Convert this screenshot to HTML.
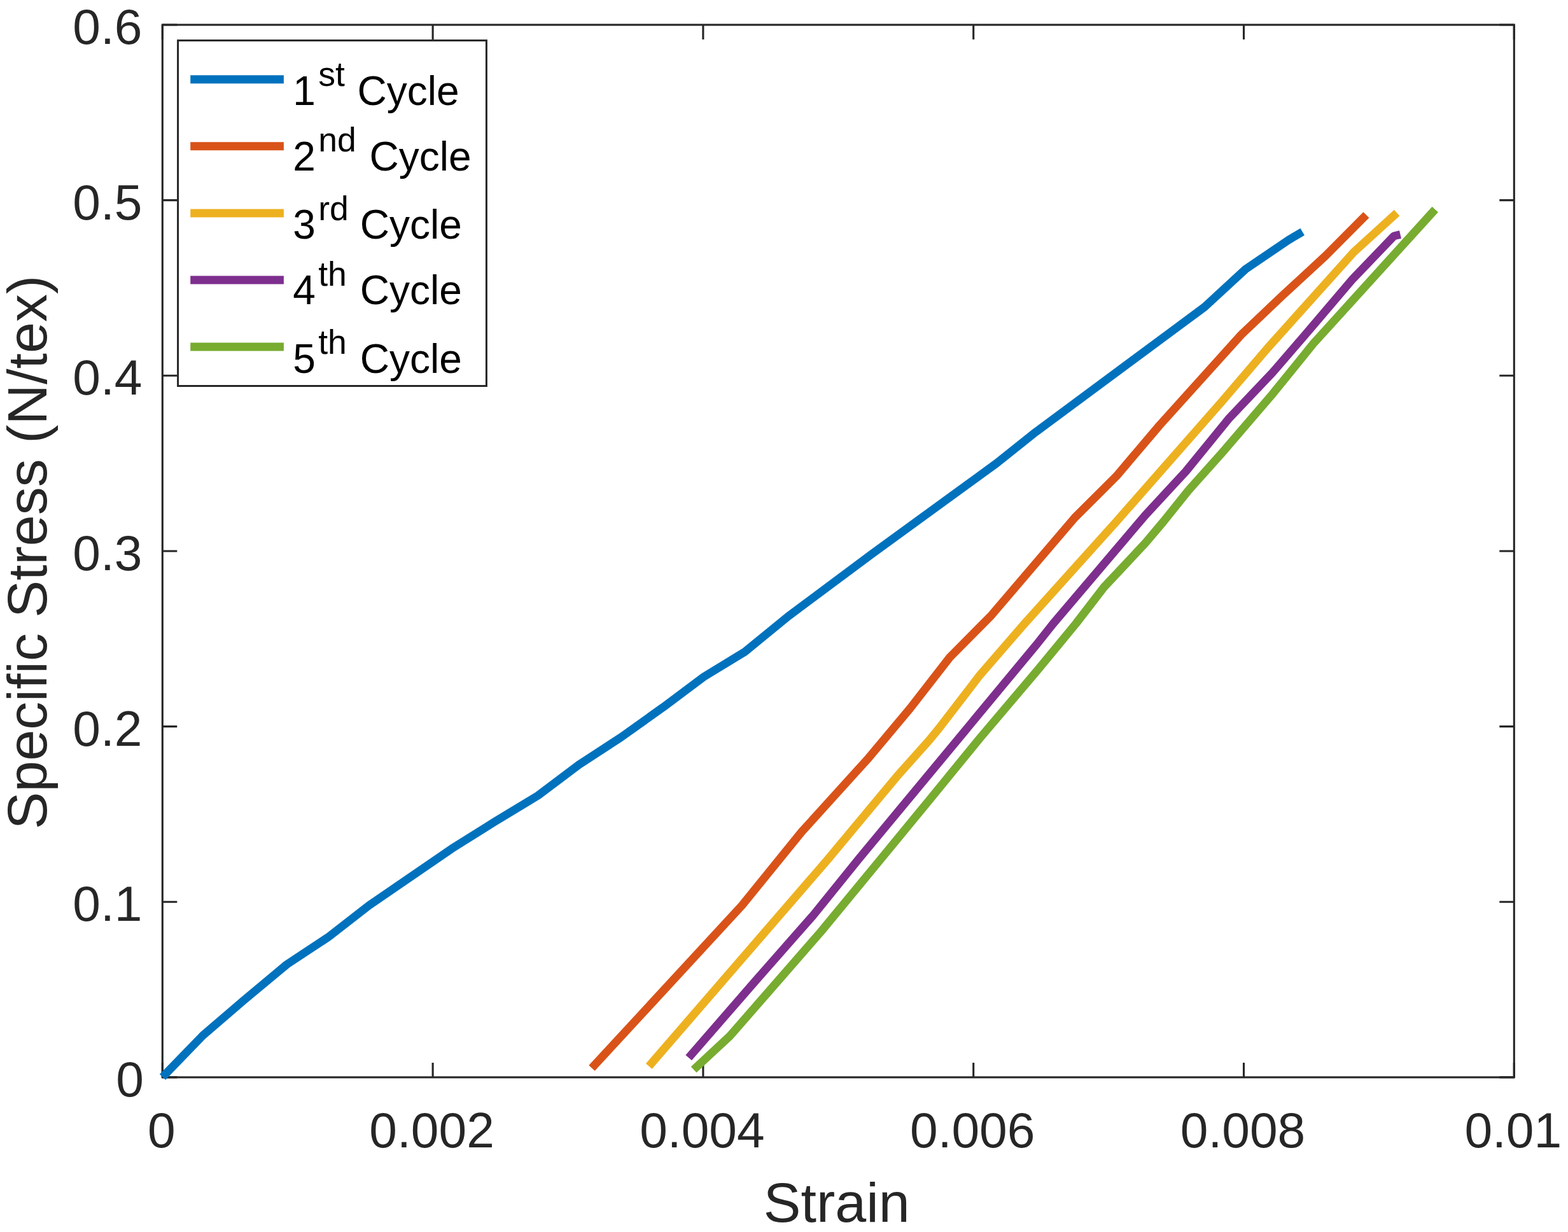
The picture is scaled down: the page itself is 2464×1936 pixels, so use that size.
<!DOCTYPE html>
<html><head><meta charset="utf-8"><title>Specific Stress vs Strain</title>
<style>html,body{margin:0;padding:0;background:#fff;} svg{display:block;}</style></head>
<body><svg width="2464" height="1936" viewBox="0 0 2464 1936">
<rect x="0" y="0" width="2464" height="1936" fill="#ffffff"/>
<path d="M255.30,1692.90V1669.90M255.30,39.00V62.00M680.10,1692.90V1669.90M680.10,39.00V62.00M1104.90,1692.90V1669.90M1104.90,39.00V62.00M1529.70,1692.90V1669.90M1529.70,39.00V62.00M1954.50,1692.90V1669.90M1954.50,39.00V62.00M2379.30,1692.90V1669.90M2379.30,39.00V62.00M255.30,1692.90H278.30M2379.30,1692.90H2356.30M255.30,1417.25H278.30M2379.30,1417.25H2356.30M255.30,1141.60H278.30M2379.30,1141.60H2356.30M255.30,865.95H278.30M2379.30,865.95H2356.30M255.30,590.30H278.30M2379.30,590.30H2356.30M255.30,314.65H278.30M2379.30,314.65H2356.30M255.30,39.00H278.30M2379.30,39.00H2356.30" stroke="#262626" stroke-width="3.1" fill="none"/>
<rect x="255.3" y="39.0" width="2124.00" height="1653.90" fill="none" stroke="#262626" stroke-width="3.1"/>
<polyline points="255.5,1692.5 318.8,1627.1 383.0,1572.0 450.8,1515.5 516.0,1472.5 579.6,1423.0 709.8,1333.7 776.8,1291.7 845.4,1250.1 909.5,1201.8 975.8,1158.6 1042.2,1111.3 1105.9,1063.6 1170.5,1024.2 1238.5,968.6 1370.0,870.6 1566.0,728.0 1627.4,679.1 1892.8,482.5 1957.3,423.0 2024.7,377.2 2046.7,364.2" fill="none" stroke="#0072BD" stroke-width="12.8" stroke-linejoin="round" stroke-linecap="butt"/>
<polyline points="930.0,1678.4 1165.8,1423.0 1260.0,1306.9 1363.0,1193.3 1430.0,1113.4 1492.7,1032.8 1557.9,966.9 1689.0,813.4 1754.3,748.3 1822.0,668.5 1950.4,526.1 2015.1,464.7 2083.0,402.0 2146.9,337.7" fill="none" stroke="#D95319" stroke-width="12.8" stroke-linejoin="round" stroke-linecap="butt"/>
<polyline points="1019.8,1675.5 1301.3,1350.0 1409.3,1220.3 1460.0,1163.5 1475.7,1144.4 1540.0,1060.7 1610.0,980.0 1754.0,820.0 1920.0,631.1 1992.3,546.6 2127.3,396.2 2195.1,334.6" fill="none" stroke="#EDB120" stroke-width="12.8" stroke-linejoin="round" stroke-linecap="butt"/>
<polyline points="1082.2,1662.1 1188.4,1540.0 1277.4,1438.9 1349.3,1350.0 1630.0,1011.5 1655.0,980.0 1800.0,809.3 1863.6,740.6 1930.7,658.2 2000.0,585.1 2050.3,526.9 2125.9,438.2 2190.5,370.9 2200.5,368.5" fill="none" stroke="#7E2F8E" stroke-width="12.8" stroke-linejoin="round" stroke-linecap="butt"/>
<polyline points="1090.1,1680.9 1147.0,1628.0 1223.8,1540.0 1290.0,1464.1 1384.1,1350.0 1460.0,1257.7 1539.8,1160.0 1630.0,1053.7 1690.7,980.0 1735.0,922.5 1800.0,853.2 1828.0,820.0 1866.9,771.4 1920.0,711.9 2000.0,618.8 2064.0,539.8 2255.2,329.1" fill="none" stroke="#77AC30" stroke-width="12.8" stroke-linejoin="round" stroke-linecap="butt"/>
<g style="font-family:'Liberation Sans',Arial,Helvetica,sans-serif;font-size:78.5px" fill="#262626"><text x="226.0" y="1722.80" text-anchor="end">0</text><text x="223.5" y="1447.15" text-anchor="end">0.1</text><text x="223.5" y="1171.50" text-anchor="end">0.2</text><text x="223.5" y="895.85" text-anchor="end">0.3</text><text x="223.5" y="620.20" text-anchor="end">0.4</text><text x="223.5" y="344.55" text-anchor="end">0.5</text><text x="223.5" y="68.90" text-anchor="end">0.6</text><text x="253.80" y="1802.8" text-anchor="middle">0</text><text x="678.60" y="1802.8" text-anchor="middle">0.002</text><text x="1103.40" y="1802.8" text-anchor="middle">0.004</text><text x="1528.20" y="1802.8" text-anchor="middle">0.006</text><text x="1953.00" y="1802.8" text-anchor="middle">0.008</text><text x="2377.80" y="1802.8" text-anchor="middle">0.01</text></g>
<text x="1314.8" y="1920.2" text-anchor="middle" style="font-family:'Liberation Sans',Arial,Helvetica,sans-serif;font-size:88px" fill="#262626">Strain</text>
<text transform="translate(72.5,868) rotate(-90)" text-anchor="middle" style="font-family:'Liberation Sans',Arial,Helvetica,sans-serif;font-size:88px" fill="#262626">Specific Stress (N/tex)</text>
<rect x="279.6" y="63.6" width="484.8" height="542.9" fill="#ffffff" stroke="#262626" stroke-width="3"/>
<g style="font-family:'Liberation Sans',Arial,Helvetica,sans-serif" fill="#000000"><line x1="299.2" y1="124.7" x2="445.9" y2="124.7" stroke="#0072BD" stroke-width="13"/><text style="font-size:64px"><tspan x="460.3" y="164.8">1</tspan><tspan x="500.2" y="135.4" style="font-size:53.5px">st </tspan><tspan x="561.5" y="164.8">Cycle</tspan></text><line x1="299.2" y1="229.8" x2="445.9" y2="229.8" stroke="#D95319" stroke-width="13"/><text style="font-size:64px"><tspan x="460.3" y="267.6">2</tspan><tspan x="500.2" y="238.3" style="font-size:53.5px">nd </tspan><tspan x="580.6" y="267.6">Cycle</tspan></text><line x1="299.2" y1="335.1" x2="445.9" y2="335.1" stroke="#EDB120" stroke-width="13"/><text style="font-size:64px"><tspan x="460.3" y="375.2">3</tspan><tspan x="500.2" y="345.8" style="font-size:53.5px">rd </tspan><tspan x="565.7" y="375.2">Cycle</tspan></text><line x1="299.2" y1="440.1" x2="445.9" y2="440.1" stroke="#7E2F8E" stroke-width="13"/><text style="font-size:64px"><tspan x="460.3" y="477.9">4</tspan><tspan x="500.2" y="448.7" style="font-size:53.5px">th </tspan><tspan x="565.7" y="477.9">Cycle</tspan></text><line x1="299.2" y1="545.1" x2="445.9" y2="545.1" stroke="#77AC30" stroke-width="13"/><text style="font-size:64px"><tspan x="460.3" y="585.5">5</tspan><tspan x="500.2" y="556.3" style="font-size:53.5px">th </tspan><tspan x="565.7" y="585.5">Cycle</tspan></text></g>
</svg></body></html>
